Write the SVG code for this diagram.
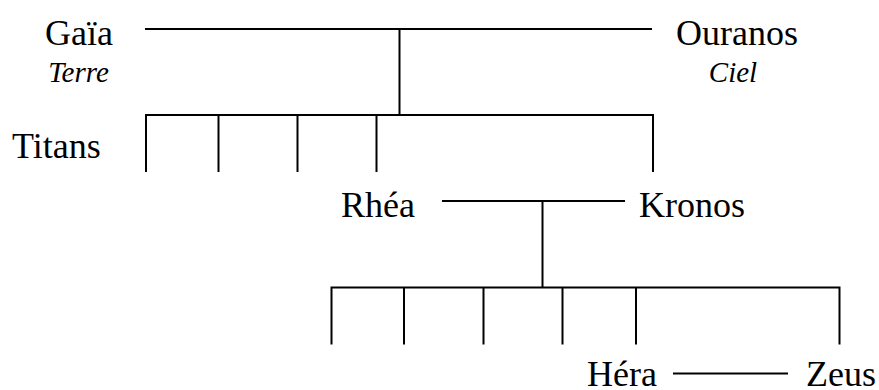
<svg xmlns="http://www.w3.org/2000/svg" width="879" height="390" viewBox="0 0 879 390">
<style>
.t{font-family:'Liberation Serif','Times New Roman',Tinos,'DejaVu Serif',serif;fill:#000}
.n{font-size:36px}
.i{font-size:29px;font-style:italic}
.c{text-anchor:middle}
.l{stroke:#000;stroke-width:2;fill:none}
</style>
<rect width="879" height="390" fill="#fff"/>
<g class="t" font-family="Liberation Serif, serif">
<g id="gaia"><text class="n c" x="79" y="45">Gaïa</text><text class="i c" x="78.5" y="81.5">Terre</text></g>
<g id="ouranos"><text class="n c" x="737" y="45">Ouranos</text><text class="i c" x="733" y="81.5">Ciel</text></g>
<g id="titans"><text class="n" x="12" y="157.5">Titans</text></g>
<g id="rhea"><text class="n" x="341" y="216.5">Rhéa</text></g>
<g id="kronos"><text class="n" x="639" y="216.5">Kronos</text></g>
<g id="hera"><text class="n" x="587" y="386">Héra</text></g>
<g id="zeus"><text class="n" x="806" y="386">Zeus</text></g>
</g>
<g id="connectors" class="l">
<path d="M145 29H652M399.5 29V115M145 115H653M146 114V172M218.5 115V172M297.5 115V172M376.5 115V172M653 114V172"/>
<path d="M442 201H625M542.5 201V287.5M331.5 287.5H839.5M331.5 286.5V344.5M404 287.5V344.5M483.5 287.5V344.5M562.5 287.5V344.5M636 287.5V344.5M839.5 286.5V344.5"/>
<path d="M673 373.5H788"/>
</g>
</svg>
